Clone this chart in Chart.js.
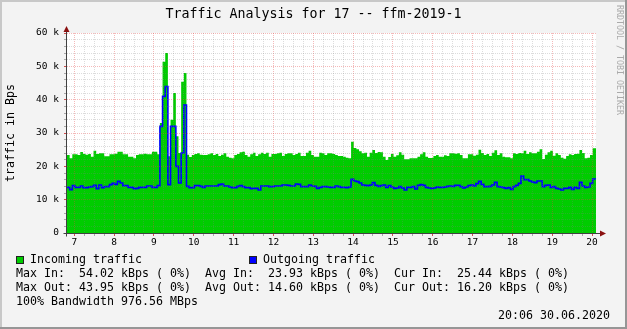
<!DOCTYPE html>
<html>
<head>
<meta charset="utf-8">
<script src="https://cdn.jsdelivr.net/npm/chart.js@4/dist/chart.umd.min.js"></script>
<style>
html,body{margin:0;padding:0;background:#f3f3f3;}
#wrap{position:relative;width:627px;height:329px;overflow:hidden;font-family:"DejaVu Sans Mono",monospace;color:#000;}
#c{position:absolute;left:0;top:0;}
.t{position:absolute;white-space:pre;font-size:11.63px;line-height:14px;}
#title{position:absolute;left:0;top:6px;width:627px;text-align:center;font-size:13.3px;line-height:16px;white-space:pre;}
.box{position:absolute;width:6px;height:6px;border:1px solid #222;}
#wm{position:absolute;left:614px;top:5px;font-size:8.3px;line-height:11px;color:#aaaaaa;writing-mode:vertical-rl;text-orientation:sideways;white-space:pre;}
</style>
</head>
<body>
<div id="wrap">
  <canvas id="c" width="627" height="329"></canvas>
  <div id="title">Traffic Analysis for 17 -- ffm-2019-1</div>
  <div id="wm">RRDTOOL / TOBI OETIKER</div>
  <div class="box" style="left:16px;top:256px;background:#00cc00;"></div>
  <div class="t" style="left:30px;top:252px;">Incoming traffic</div>
  <div class="box" style="left:249px;top:256px;background:#0000ff;"></div>
  <div class="t" style="left:263px;top:252px;">Outgoing traffic</div>
  <div class="t" style="left:16px;top:266px;">Max In:  54.02 kBps ( 0%)  Avg In:  23.93 kBps ( 0%)  Cur In:  25.44 kBps ( 0%)</div>
  <div class="t" style="left:16px;top:280px;">Max Out: 43.95 kBps ( 0%)  Avg Out: 14.60 kBps ( 0%)  Cur Out: 16.20 kBps ( 0%)</div>
  <div class="t" style="left:16px;top:294px;">100% Bandwidth 976.56 MBps</div>
  <div class="t" style="right:17px;top:308px;">20:06 30.06.2020</div>
</div>
<script>
// ---- data (kBps), one sample every 4 minutes starting at 06:49 ----
const START_HOUR = 6.8167;
const END_HOUR = 20.1;
const STEP_MIN = 4;

const incomingK = [
  23.4, 22.4, 23.6, 23.6, 23.4, 24.3, 23.7, 23.5, 23.7, 22.9,
  24.7, 23.7, 23.9, 23.9, 23.0, 23.0, 23.6, 23.6, 23.8, 24.4,
  24.4, 23.6, 23.6, 22.9, 22.9, 22.4, 23.4, 23.6, 23.6, 23.8,
  23.6, 23.6, 24.4, 24.4, 23.6, 33.0, 51.4, 54.02, 23.0, 34.0,
  42.0, 29.0, 24.0, 45.4, 48.0, 23.5, 22.8, 23.4, 23.7, 23.9,
  23.5, 23.4, 23.4, 23.6, 23.9, 23.4, 23.7, 23.1, 23.5, 23.9,
  22.9, 22.6, 22.4, 23.4, 23.7, 24.2, 24.4, 23.4, 22.9, 23.6,
  24.1, 23.1, 23.6, 24.1, 23.7, 24.1, 22.9, 23.7, 23.7, 23.9,
  24.1, 23.1, 23.7, 23.9, 23.9, 23.4, 23.7, 24.1, 23.1, 23.1,
  24.1, 24.7, 23.4, 22.9, 22.9, 24.1, 23.9, 23.4, 23.9, 23.9,
  23.7, 23.4, 23.1, 23.1, 22.9, 22.6, 22.4, 27.4, 25.5, 25.1,
  24.5, 23.9, 24.1, 22.9, 24.1, 24.9, 24.0, 24.3, 24.2, 22.9,
  21.9, 22.8, 23.7, 22.9, 23.3, 24.2, 23.5, 22.1, 22.1, 22.4,
  22.4, 22.4, 22.9, 23.6, 24.2, 22.9, 22.5, 22.5, 23.1, 23.4,
  22.9, 22.9, 23.3, 23.1, 23.9, 23.9, 23.8, 23.9, 23.4, 22.4,
  22.4, 23.6, 23.6, 23.2, 23.5, 25.0, 24.0, 23.4, 23.7, 23.1,
  24.1, 24.8, 23.4, 23.9, 22.9, 22.7, 22.7, 22.4, 23.9, 23.7,
  24.0, 23.9, 24.7, 23.7, 24.2, 23.9, 23.9, 24.4, 25.1, 22.2,
  23.5, 24.2, 24.7, 23.2, 23.9, 23.4, 22.6, 22.3, 23.1, 23.6,
  23.4, 23.7, 23.8, 24.9, 24.0, 22.4, 22.6, 23.4, 25.44
];

const outgoingK = [
  13.7, 13.0, 14.2, 13.7, 13.7, 14.1, 13.6, 13.6, 13.8, 13.9,
  14.3, 13.3, 14.4, 13.6, 13.9, 13.9, 14.5, 14.9, 14.6, 15.5,
  15.0, 14.2, 14.2, 13.7, 13.7, 13.3, 13.4, 13.7, 13.7, 13.7,
  14.1, 14.1, 13.7, 13.7, 14.2, 32.0, 41.0, 43.95, 14.5, 32.0,
  32.0, 20.0, 15.0, 24.0, 38.4, 14.0, 13.6, 13.6, 14.2, 14.2,
  14.0, 13.7, 14.1, 14.1, 14.1, 14.1, 14.1, 14.5, 14.7, 14.1,
  14.1, 13.8, 13.6, 13.6, 14.0, 14.2, 13.9, 13.6, 13.6, 13.3,
  13.4, 13.4, 12.9, 14.1, 14.1, 14.1, 13.9, 13.9, 14.1, 14.1,
  14.1, 14.4, 14.4, 14.3, 14.1, 14.1, 14.7, 14.6, 13.9, 13.9,
  13.9, 14.4, 14.1, 14.0, 13.4, 13.7, 13.9, 13.9, 13.8, 13.7,
  13.7, 14.1, 13.9, 13.7, 13.7, 13.6, 13.8, 16.1, 15.6, 15.4,
  15.0, 14.4, 14.3, 14.2, 14.4, 15.1, 14.3, 14.0, 14.2, 14.4,
  13.7, 14.2, 13.8, 13.4, 13.5, 13.9, 13.5, 12.9, 13.7, 13.7,
  13.9, 13.2, 14.3, 14.5, 14.3, 13.7, 13.5, 13.4, 13.5, 13.8,
  13.7, 13.7, 13.8, 14.0, 14.1, 14.0, 14.3, 14.3, 13.9, 13.5,
  13.8, 14.2, 14.4, 14.1, 14.8, 15.5, 14.6, 13.9, 13.9, 14.0,
  14.4, 15.2, 13.9, 13.8, 13.6, 13.4, 13.6, 13.1, 13.9, 14.3,
  14.9, 17.1, 16.0, 16.0, 15.6, 15.3, 15.1, 15.6, 15.6, 13.9,
  14.3, 14.4, 13.7, 13.9, 13.4, 13.2, 12.9, 13.4, 13.4, 13.7,
  13.1, 13.7, 13.4, 15.2, 14.1, 13.7, 13.8, 14.9, 16.2
];

const xTickHours = [7, 8, 9, 10, 11, 12, 13, 14, 15, 16, 17, 18, 19, 20];
const yTickK = [0, 10, 20, 30, 40, 50, 60];
const Y_MAX = 60;

// ---- build point tables for the library ----
function toPoints(vals) {
  const pts = vals.map((v, i) => ({ x: START_HOUR + i * STEP_MIN / 60, y: v }));
  pts.push({ x: END_HOUR, y: vals[vals.length - 1] });
  return pts;
}

const FONT = "'DejaVu Sans Mono', monospace";
const MINOR_GRID = 'rgba(130,130,130,0.28)';
const MAJOR_GRID = 'rgba(225,70,70,0.38)';
const AXIS = '#404040';
const ARROW = '#8a1010';

const frame = {
  id: 'frame',
  beforeDraw(chart) {
    const { ctx, chartArea: a } = chart;
    const W = chart.width, H = chart.height;
    ctx.save();
    ctx.fillStyle = '#f3f3f3';
    ctx.fillRect(0, 0, W, H);
    ctx.fillStyle = '#c8c8c8';
    ctx.fillRect(0, 0, W, 2);
    ctx.fillRect(0, 0, 2, H);
    ctx.fillStyle = '#969696';
    ctx.fillRect(W - 2, 0, 2, H);
    ctx.fillRect(0, H - 2, W, 2);
    ctx.fillStyle = '#ffffff';
    ctx.fillRect(a.left, a.top, a.right - a.left, a.bottom - a.top);
    ctx.restore();
  },
  afterDraw(chart) {
    const { ctx, chartArea: a } = chart;
    const x0 = Math.round(a.left) - 0.5;
    const y0 = Math.round(a.bottom) + 0.5;
    ctx.save();
    ctx.strokeStyle = AXIS;
    ctx.lineWidth = 1;
    ctx.beginPath();
    ctx.moveTo(x0, y0 + 3);
    ctx.lineTo(x0, a.top - 3);
    ctx.moveTo(x0 - 3, y0);
    ctx.lineTo(a.right + 4, y0);
    ctx.stroke();
    ctx.fillStyle = ARROW;
    ctx.beginPath();
    ctx.moveTo(x0, a.top - 7);
    ctx.lineTo(x0 - 3, a.top - 1);
    ctx.lineTo(x0 + 3, a.top - 1);
    ctx.closePath();
    ctx.fill();
    ctx.beginPath();
    ctx.moveTo(a.right + 10, y0);
    ctx.lineTo(a.right + 4, y0 - 3);
    ctx.lineTo(a.right + 4, y0 + 3);
    ctx.closePath();
    ctx.fill();
    ctx.restore();
  }
};

new Chart(document.getElementById('c'), {
  type: 'line',
  data: {
    datasets: [
      {
        label: 'Outgoing traffic',
        data: toPoints(outgoingK),
        stepped: true,
        borderColor: '#0000ff',
        borderWidth: 1.6,
        pointRadius: 0,
        fill: false
      },
      {
        label: 'Incoming traffic',
        data: toPoints(incomingK),
        stepped: true,
        borderWidth: 0,
        borderColor: 'rgba(0,0,0,0)',
        backgroundColor: '#00cc00',
        pointRadius: 0,
        fill: 'origin'
      }
    ]
  },
  options: {
    responsive: false,
    animation: false,
    devicePixelRatio: 1,
    events: [],
    layout: { padding: { left: 0, top: 33, right: 31, bottom: 76 } },
    plugins: { legend: { display: false }, tooltip: { enabled: false }, title: { display: false } },
    scales: {
      x: {
        type: 'linear',
        min: START_HOUR,
        max: END_HOUR,
        afterBuildTicks(s) {
          const t = [];
          for (let k = xTickHours[0] * 4; k <= xTickHours[xTickHours.length - 1] * 4; k++) t.push({ value: k / 4 });
          s.ticks = t;
        },
        afterFit(s) { s.height = 20; },
        ticks: {
          autoSkip: false, maxRotation: 0, minRotation: 0, padding: 1,
          color: '#000', font: { family: FONT, size: 9.5 },
          callback: v => xTickHours.includes(v) ? String(v) : ''
        },
        grid: {
          z: 1, lineWidth: 1, tickLength: 3, drawTicks: true,
          color: c => Number.isInteger(c.tick.value) ? MAJOR_GRID : MINOR_GRID,
          tickColor: c => Number.isInteger(c.tick.value) ? '#d05050' : '#aaaaaa',
          borderDash: [1, 1], tickBorderDash: []
        },
        border: { display: false, dash: [1, 1] }
      },
      y: {
        type: 'linear',
        min: 0,
        max: Y_MAX,
        afterBuildTicks(s) {
          const t = [];
          for (let v = 0; v <= Y_MAX; v += 2) t.push({ value: v });
          s.ticks = t;
        },
        afterFit(s) { s.width = 67; },
        ticks: {
          autoSkip: false, padding: 5,
          color: '#000', font: { family: FONT, size: 9.5 },
          callback: v => yTickK.includes(v) ? (v === 0 ? '0' : v + ' k') : ''
        },
        title: {
          display: true, text: 'traffic in Bps', color: '#000',
          font: { family: FONT, size: 11.63 }, padding: { top: 4, bottom: 0 }
        },
        grid: {
          z: 1, lineWidth: 1, tickLength: 3, drawTicks: true,
          color: c => c.tick.value % 10 === 0 ? MAJOR_GRID : MINOR_GRID,
          tickColor: c => c.tick.value % 10 === 0 ? '#d05050' : '#aaaaaa',
          borderDash: [1, 1], tickBorderDash: []
        },
        border: { display: false, dash: [1, 1] }
      }
    }
  },
  plugins: [frame]
});
</script>
</body>
</html>
